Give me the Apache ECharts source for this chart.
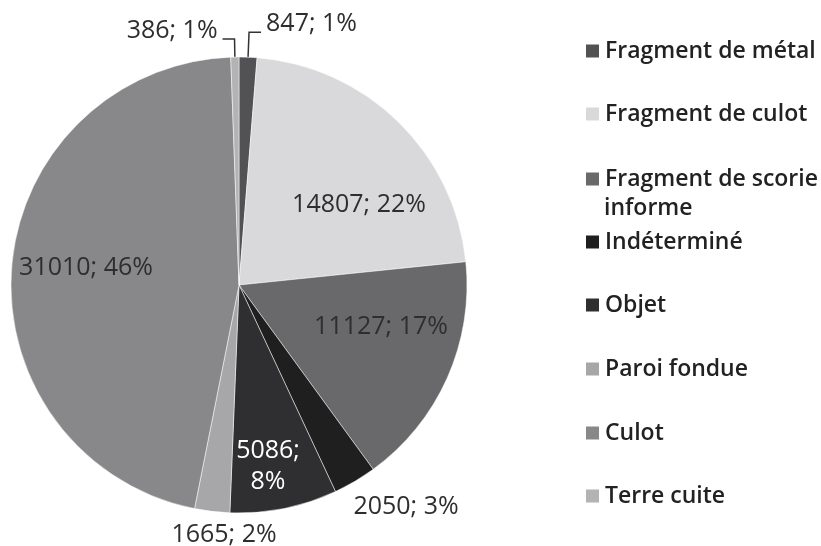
<!DOCTYPE html>
<html>
<head>
<meta charset="utf-8">
<script src="https://cdn.jsdelivr.net/npm/echarts@6/dist/echarts.min.js"></script>
<style>
  html, body { margin: 0; padding: 0; background: #fff; }
  #main { width: 821px; height: 546px; }
</style>
</head>
<body>
<div id="main"></div>
<script>
// categories, clockwise from 12 o'clock
const categories = ['Fragment de métal', 'Fragment de culot', 'Fragment de scorie informe', 'Indéterminé',
  'Objet', 'Paroi fondue', 'Culot', 'Terre cuite']
const values = [847, 14807, 11127, 2050, 5086, 1665, 31010, 386]
const colors = ['#525254', '#d9d9db', '#69696b', '#1f1f1f', '#2f2f31', '#a7a7a9', '#88888a', '#b3b3b5']

// label placement (not data)
const lineLen = { 'Fragment de métal': 25, 'Terre cuite': 18 }
const labelPos = {
  'Fragment de culot': [359, 205],
  'Fragment de scorie informe': [381, 327],
  'Indéterminé': [406, 507],
  'Objet': [268, 466],
  'Paroi fondue': [224, 535],
  'Culot': [86, 268]
}
const legendY = [51, 114, 179, 242, 305, 369, 433, 496]

const chart = echarts.init(document.getElementById('main'))

const pieData = categories.map((name, i) => ({
  name: name,
  value: values[i],
  itemStyle: { color: colors[i] },
  label: {
    position: lineLen[name] ? 'outside' : 'inside',
    color: name === 'Objet' ? '#ffffff' : '#2e2e2e'
  },
  labelLine: { show: !!lineLen[name], length: lineLen[name] || 0 }
}))

const legends = categories.map((name, i) => ({
  data: [name],
  left: 584,
  top: legendY[i] - 15,
  padding: 0,
  icon: 'rect',
  itemWidth: 15,
  itemHeight: 15,
  selectedMode: false,
  formatter: n => n === 'Fragment de scorie informe' ? 'Fragment de scorie' : n,
  textStyle: {
    fontFamily: 'Open Sans',
    fontWeight: 600,
    fontSize: 23,
    lineHeight: 30,
    color: '#222'
  }
}))

chart.setOption({
  animation: false,
  backgroundColor: '#fff',
  legend: legends,
  graphic: [{
    type: 'text',
    left: 604,
    top: legendY[2] + 18,
    style: { text: 'informe', font: '600 23px "Open Sans"', fill: '#222' }
  }],
  series: [{
    type: 'pie',
    center: [239, 285],
    radius: 228,
    startAngle: 90,
    clockwise: true,
    percentPrecision: 0,
    avoidLabelOverlap: false,
    itemStyle: { borderColor: '#ffffff', borderWidth: 0.5 },
    label: {
      fontFamily: 'Open Sans',
      fontSize: 25,
      lineHeight: 31,
      formatter: p => p.name === 'Objet'
        ? p.value + ';\n' + p.percent + '%'
        : p.value + '; ' + p.percent + '%'
    },
    labelLine: {
      length2: 12,
      lineStyle: { color: '#333', width: 1.5 }
    },
    labelLayout: p => {
      const name = categories[p.dataIndex]
      const pos = labelPos[name]
      if (!pos) return { dy: -8, labelLinePoints: p.labelLinePoints }
      return { x: pos[0], y: pos[1], align: 'center', verticalAlign: 'middle' }
    },
    data: pieData
  }]
})
</script>
</body>
</html>
